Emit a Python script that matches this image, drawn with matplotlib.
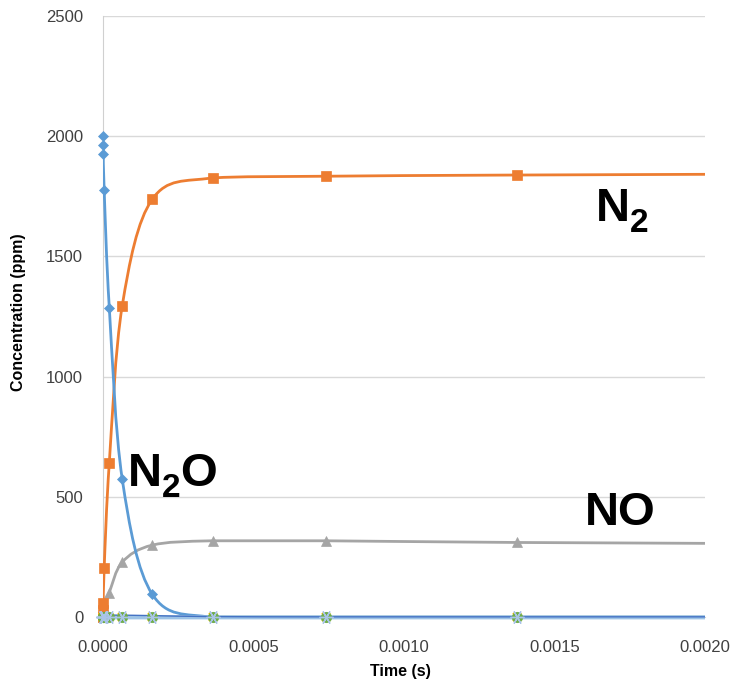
import numpy as np
import matplotlib
matplotlib.use('Agg')
import matplotlib.pyplot as plt
from matplotlib.path import Path
from matplotlib.patches import PathPatch, Rectangle

# Sample times (s); the last point lies past the axis end, as in the source sheet
time = [0.0, 1e-6, 2e-6, 5e-6, 2.2e-5, 6.5e-5, 1.65e-4, 3.65e-4, 7.4e-4, 1.375e-3, 2.5e-3]

n2o = [2000, 1962, 1924, 1774, 1287, 574, 95, 0, 0, 0, 0]
n2 = [0, 30, 61, 206, 642, 1295, 1738, 1826, 1833, 1838, 1843]
no = [0, 5, 12, 40, 103, 229, 300, 318, 318, 311, 305]
trace_x = [0, 0, 0, 0, 0, 0, 0, 0, 0, 0, 0]
trace_star = [0, 0, 0, 0, 0, 0, 0, 0, 0, 0, 0]
trace_circle = [0, 0, 0, 0, 0, 0, 0, 0, 0, 0, 0]
trace_dark = [0, 3, 5, 7, 9, 9, 7, 3, 2, 2, 2]

y_ticks = [0, 500, 1000, 1500, 2000, 2500]
x_ticks = [0.0, 0.0005, 0.0010, 0.0015, 0.0020]

# species labels: pieces of (text, is_subscript)
labels = [
    [('N', False), ('2', True)],
    [('N', False), ('2', True), ('O', False)],
    [('NO', False)],
]
label_pos = [(1.636e-3, 1647), (8.4e-5, 546), (1.602e-3, 384)]

BLUE = '#5B9BD5'
ORANGE = '#ED7D31'
GREY = '#A5A5A5'
GOLD = '#FFC000'
LIGHTBLUE = '#9DC3E6'
DARKBLUE = '#4472C4'
GREEN = '#70AD47'


def smooth_path(xs, ys):
    '''
    Excel-style smoothed line: cubic Bezier segments with
    Catmull-Rom control points through the data points.
    Control heights are kept inside each segment's range so the
    curve does not dip past the flat parts.
    '''
    pts = np.column_stack([xs, ys]).astype(float)
    n = len(pts)
    verts = [pts[0]]
    codes = [Path.MOVETO]
    for i in range(n - 1):
        p_prev = pts[i - 1] if i > 0 else pts[i]
        p_next = pts[i + 2] if i + 2 < n else pts[i + 1]
        c1 = pts[i] + (pts[i + 1] - p_prev) / 6.0
        c2 = pts[i + 1] - (p_next - pts[i]) / 6.0
        lo = min(pts[i][1], pts[i + 1][1])
        hi = max(pts[i][1], pts[i + 1][1])
        c1[1] = np.clip(c1[1], lo, hi)
        c2[1] = np.clip(c2[1], lo, hi)
        verts += [c1, c2, pts[i + 1]]
        codes += [Path.CURVE4] * 3
    return Path(verts, codes)


plt.rcParams['font.family'] = ['Liberation Sans', 'DejaVu Sans']

fig = plt.figure(figsize=(7.44, 6.84), dpi=100)
ax = fig.add_axes([0.138, 0.0975, 0.8096, 0.8795])

ax.set_xlim(0, 0.002)
ax.set_ylim(0, 2500)

clip = Rectangle((0, -0.03), 1, 1.06, transform=ax.transAxes)

# (values, colour, line width, line z, marker, marker size, marker z)
series = [
    (n2o, BLUE, 2.0, 7, 'D', 5.5, 7),
    (n2, ORANGE, 2.0, 6, 's', 7, 6),
    (no, GREY, 2.0, 5, '^', 7.5, 5),
    (trace_x, GOLD, 2.0, 2, 'x', 6, 8),
    (trace_circle, GREEN, 2.0, 3, 'o', 7.5, 8.2),
    (trace_star, LIGHTBLUE, 3.0, 7.2, None, 0, 0),
    (trace_dark, DARKBLUE, 1.0, 7.5, None, 0, 0),
]

for values, colour, lw, zl, marker, msize, zm in series:
    patch = PathPatch(smooth_path(time, values), facecolor='none', edgecolor=colour,
                      lw=lw, zorder=zl, capstyle='round', joinstyle='round')
    ax.add_patch(patch)
    patch.set_clip_path(clip)
    if marker:
        ax.plot(time[:-1], values[:-1], linestyle='none', marker=marker, color=colour,
                markersize=msize, markeredgewidth=1.5 if marker == 'x' else 0.5,
                zorder=zm, clip_on=False)

# light blue asterisk markers on top of the zero traces
ax.plot(time[:-1], trace_star[:-1], linestyle='none', marker=(6, 2, 90), color='#A9C4E8',
        markersize=10, markeredgewidth=1.0, zorder=8.5, clip_on=False)

ax.set_yticks(y_ticks)
ax.set_xticks(x_ticks)
ax.set_yticklabels([str(v) for v in y_ticks])
ax.set_xticklabels(['%.4f' % v for v in x_ticks])
ax.tick_params(length=0, labelsize=12, labelcolor='#404040')
ax.tick_params(axis='y', pad=14)
ax.tick_params(axis='x', pad=16)

ax.grid(axis='y', color='#D9D9D9', lw=1.0)
ax.set_axisbelow(True)
for side in ['top', 'right']:
    ax.spines[side].set_visible(False)
ax.spines['left'].set_color('#D0D0D0')
ax.spines['bottom'].set_color('#D0D0D0')

ax.set_xlabel('Time (s)', fontsize=11.5, fontweight='bold')
ax.set_ylabel('Concentration (ppm)', fontsize=11.5, fontweight='bold')
ax.xaxis.set_label_coords(0.495, -0.078)
ax.yaxis.set_label_coords(-0.128, 0.508)

renderer = fig.canvas.get_renderer()
for pieces, (tx, ty) in zip(labels, label_pos):
    dx = 0
    for text, sub in pieces:
        size = 24 if sub else 34
        drop = 11 if sub else 0
        t = ax.annotate(text, xy=(tx, ty), xytext=(dx, -drop), textcoords='offset pixels',
                        fontsize=size, fontweight='bold', color='black',
                        ha='left', va='baseline', zorder=10)
        dx += t.get_window_extent(renderer).width

fig.savefig('out.png', dpi=100)
